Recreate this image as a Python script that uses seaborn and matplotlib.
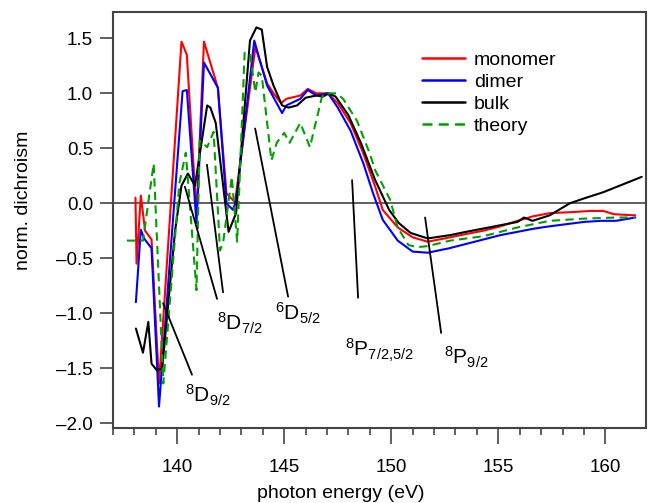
import matplotlib
matplotlib.use("Agg")
import matplotlib.pyplot as plt
import seaborn as sns
import pandas as pd
import numpy as np

# ---------------- data ----------------
mono_E = [138.05, 138.1, 138.3, 138.5, 138.8, 139.15, 140.2, 140.45, 140.9, 141.25, 141.9,
          142.3, 142.7, 143.65, 144.2, 144.5, 144.85, 145.1, 145.75, 146.1, 146.5, 147.05,
          147.5, 148.1, 148.7, 149.25, 149.6, 150.3, 151.0, 151.7, 152.5, 153.5, 154.3,
          155.1, 155.9, 156.6, 157.4, 158.5, 159.3, 159.9, 160.4, 161.4]
mono_v = [0.05, -0.55, 0.07, -0.25, -0.33, -1.64, 1.47, 1.35, -0.10, 1.47, 1.05,
          0.09, 0.01, 1.42, 1.09, 1.00, 0.91, 0.95, 0.98, 1.04, 1.00, 1.00,
          0.91, 0.73, 0.45, 0.15, -0.06, -0.22, -0.31, -0.35, -0.32, -0.28, -0.25,
          -0.21, -0.16, -0.12, -0.09, -0.08, -0.07, -0.07, -0.10, -0.11]

dim_E = [138.07, 138.3, 138.45, 138.8, 139.15, 140.25, 140.45, 140.9, 141.25, 141.9,
         142.3, 142.6, 142.75, 143.6, 144.2, 144.9, 145.1, 145.75, 146.1, 146.5, 147.05,
         147.5, 148.1, 148.7, 149.15, 149.6, 150.3, 151.0, 151.7, 152.7, 153.5, 154.3,
         155.1, 155.9, 156.7, 157.4, 158.2, 159.0, 159.8, 160.5, 161.4]
dim_v = [-0.90, -0.24, -0.32, -0.41, -1.85, 1.02, 1.03, -0.18, 1.28, 1.05,
         0.00, -0.06, 0.02, 1.48, 1.07, 0.82, 0.89, 0.95, 1.03, 0.98, 1.00,
         0.87, 0.66, 0.36, 0.09, -0.15, -0.34, -0.44, -0.45, -0.41, -0.37, -0.33,
         -0.29, -0.26, -0.23, -0.21, -0.19, -0.17, -0.16, -0.16, -0.13]

bulk_E = [138.07, 138.4, 138.65, 138.8, 139.05, 139.3, 139.9, 140.2, 140.5, 140.83, 141.4,
          141.55, 141.8, 142.4, 142.75, 143.4, 143.7, 143.95, 144.2, 144.5, 144.9, 145.2,
          145.6, 146.0, 146.5, 146.8, 147.1, 147.4, 148.0, 148.6, 149.25, 149.9, 150.35,
          150.9, 151.7, 152.75, 153.5, 154.3, 155.1, 155.9, 156.2, 156.6, 157.4, 158.35,
          159.1, 159.9, 160.8, 161.7]
bulk_v = [-1.14, -1.36, -1.08, -1.46, -1.52, -1.50, -0.25, 0.16, 0.27, 0.16, 0.89,
          0.87, 0.73, -0.26, -0.09, 1.48, 1.60, 1.58, 1.24, 1.07, 0.89, 0.87,
          0.89, 0.96, 0.98, 0.97, 1.00, 0.97, 0.80, 0.54, 0.21, -0.06, -0.18,
          -0.27, -0.32, -0.29, -0.26, -0.23, -0.20, -0.17, -0.13, -0.16, -0.11, 0.00,
          0.05, 0.10, 0.17, 0.24]

theo_E = [137.65, 138.0, 138.4, 138.9, 139.35, 140.1, 140.4, 140.9, 141.05, 141.4, 141.7,
          142.0, 142.15, 142.55, 142.8, 143.15, 143.4, 143.65, 143.8, 143.95, 144.4, 144.65,
          145.0, 145.25, 145.75, 146.2, 146.75, 146.9, 147.45, 147.75, 148.4, 149.0, 149.25,
          149.95, 150.3, 150.8, 151.2, 151.7, 152.75, 154.3, 155.9, 157.4, 159.0, 160.5, 161.4]
theo_v = [-0.34, -0.34, -0.34, 0.36, -1.64, 0.18, 0.46, -0.79, 0.57, 0.51, 0.65,
          -0.43, -0.35, 0.24, -0.35, 1.37, 1.36, 1.01, 1.19, 1.16, 0.39, 0.55,
          0.64, 0.55, 0.73, 0.51, 0.96, 1.00, 1.00, 0.95, 0.75, 0.45, 0.30,
          0.03, -0.22, -0.38, -0.40, -0.39, -0.34, -0.30, -0.22, -0.16, -0.14, -0.13, -0.13]

series_names = ["monomer", "dimer", "bulk", "theory"]
series_colors = ["#ff0000", "#0000ff", "#000000", "#00a000"]

# annotation labels and their guide lines
ann_labels = [r"$^{8}\mathrm{D}_{9/2}$", r"$^{8}\mathrm{D}_{7/2}$", r"$^{6}\mathrm{D}_{5/2}$",
              r"$^{8}\mathrm{P}_{7/2{,}5/2}$", r"$^{8}\mathrm{P}_{9/2}$"]
ann_text_E = [140.36, 141.88, 144.57, 147.85, 152.47]
ann_text_v = [-1.63, -0.98, -0.89, -1.22, -1.29]
ann_lines = [((139.34, -0.91), (140.69, -1.56)),
             ((140.36, 0.15), (141.86, -0.87)),
             ((141.39, 0.35), (142.14, -0.81)),
             ((143.64, 0.68), (145.18, -0.85)),
             ((148.17, 0.21), (148.45, -0.86)),
             ((151.58, -0.13), (152.33, -1.18))]

x_major = [140, 145, 150, 155, 160]
y_major = [-2.0, -1.5, -1.0, -0.5, 0.0, 0.5, 1.0, 1.5]

# ---------------- plotting ----------------
sns.set_theme(style="ticks")
plt.rcParams["font.family"] = ["Liberation Sans", "DejaVu Sans"]
plt.rcParams["mathtext.fontset"] = "custom"
plt.rcParams["mathtext.rm"] = "Liberation Sans"
plt.rcParams["mathtext.it"] = "Liberation Sans:italic"
plt.rcParams["mathtext.bf"] = "Liberation Sans:bold"
plt.rcParams["text.color"] = "black"
plt.rcParams["axes.labelcolor"] = "black"
plt.rcParams["xtick.labelcolor"] = "black"
plt.rcParams["ytick.labelcolor"] = "black"

fig = plt.figure(figsize=(6.53, 5.03), dpi=100)
ax = fig.add_axes([113 / 653, 75 / 503, 533 / 653, 416 / 503])

frames = []
for name, E, v in zip(series_names, [mono_E, dim_E, bulk_E, theo_E],
                      [mono_v, dim_v, bulk_v, theo_v]):
    frames.append(pd.DataFrame({"E": E, "v": v, "series": name}))
df = pd.concat(frames, ignore_index=True)

ax.axhline(0, color="#444444", lw=1.2, zorder=1)

for name, col in zip(series_names, series_colors):
    sub = df[df.series == name]
    sns.lineplot(data=sub, x="E", y="v", color=col, lw=1.5, label=name, ax=ax,
                 estimator=None, sort=False)
for line in ax.get_lines():
    if line.get_label() == "theory":
        line.set_linestyle((0, (4, 2.5)))

for (p1, p2) in ann_lines:
    ax.plot([p1[0], p2[0]], [p1[1], p2[1]], color="black", lw=1.3)
for lab, xe, yv in zip(ann_labels, ann_text_E, ann_text_v):
    ax.text(xe, yv, lab, fontsize=15, ha="left", va="top", color="black")

ax.set_xlim(137.0, 161.9)
ax.set_ylim(-2.045, 1.74)
ax.set_xticks(x_major)
ax.set_xticks(np.arange(137, 161, 1), minor=True)
ax.set_yticks(y_major)
ax.set_yticklabels([f"{t:.1f}".replace("-", "\u2013") for t in y_major])
ax.tick_params(axis="x", which="major", length=11.5, width=1.2, pad=11,
               labelsize=13.5, color="#444444", labelcolor="black")
ax.tick_params(axis="x", which="minor", length=5, width=1.2, color="#444444")
ax.tick_params(axis="y", which="major", length=9.4, width=1.2, pad=5,
               labelsize=13.5, color="#444444", labelcolor="black")
for s in ax.spines.values():
    s.set_color("#444444")
    s.set_linewidth(1.5)

ax.set_xlabel("photon energy (eV)", fontsize=14, color="black")
ax.set_ylabel("norm. dichroism", fontsize=14, color="black")
ax.xaxis.set_label_coords(0.428, -0.137)
ax.yaxis.set_label_coords(-0.152, 0.548)

leg = ax.legend(loc="upper left", bbox_to_anchor=(0.58, 0.905), frameon=False,
                fontsize=14, handlelength=2.2, handletextpad=0.45,
                labelspacing=0.22, borderpad=0, borderaxespad=0)
for t in leg.get_texts():
    t.set_color("black")
for h in leg.get_lines():
    h.set_linewidth(1.8)

fig.savefig("out.png", dpi=100)
